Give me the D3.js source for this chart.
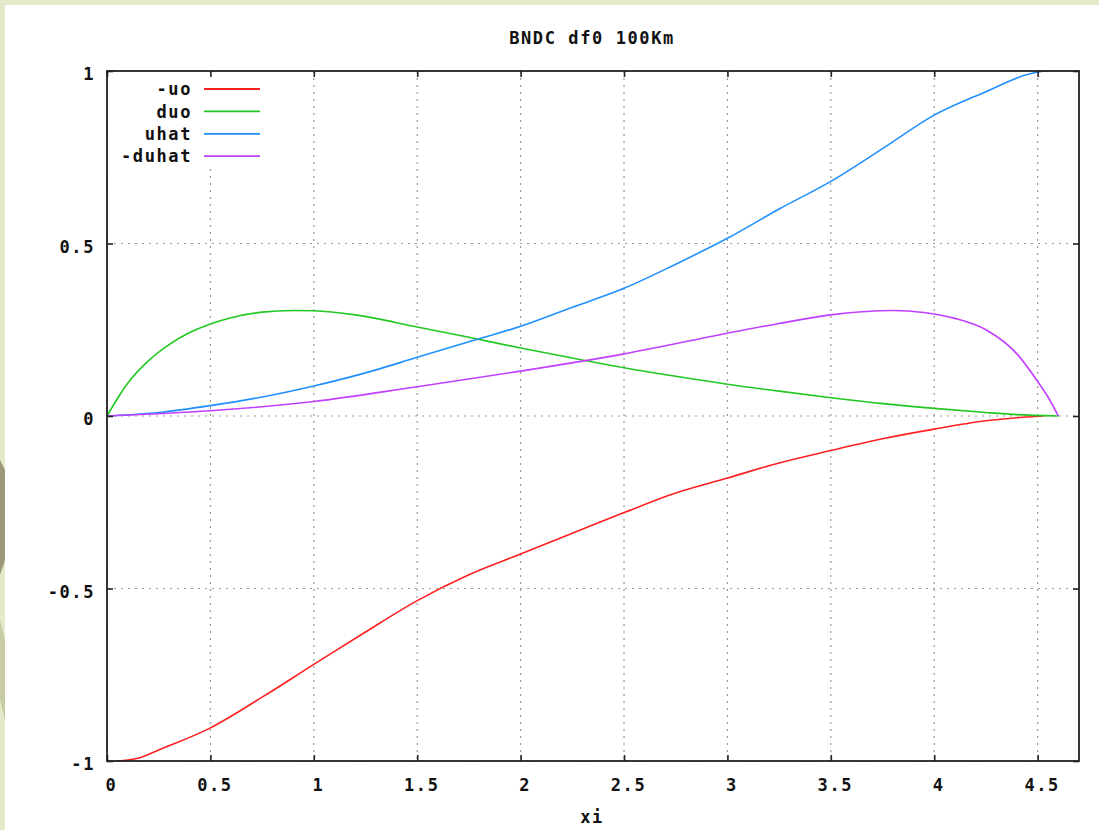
<!DOCTYPE html>
<html>
<head>
<meta charset="utf-8">
<script src="https://cdn.jsdelivr.net/npm/d3@7"></script>
<style>
  html, body { margin: 0; padding: 0; background: #e3e9c9; }
  svg { display: block; }
  text { font-family: "DejaVu Sans Mono", monospace; font-weight: bold; font-size: 17px; letter-spacing: 1.6px; fill: #111; }
</style>
</head>
<body>
<svg id="chart" width="1099" height="830"></svg>
<script>
// curves
const uoX = [0.05, 0.15, 0.25, 0.5, 0.75, 1, 1.25, 1.5, 1.75, 2, 2.25, 2.5, 2.75, 3, 3.25, 3.5, 3.75, 4, 4.25, 4.4, 4.53];
const uoY = [-1, -0.992, -0.968, -0.904, -0.815, -0.72, -0.626, -0.535, -0.46, -0.40, -0.34, -0.28, -0.223, -0.18, -0.136, -0.10, -0.066, -0.038, -0.014, -0.005, 0];

const duoX = [0, 0.05, 0.1, 0.2, 0.3, 0.4, 0.5, 0.6, 0.75, 0.9, 1.0, 1.2, 1.5, 1.75, 2, 2.25, 2.5, 2.75, 3, 3.25, 3.5, 3.75, 4, 4.25, 4.4, 4.6];
const duoY = [0, 0.05, 0.095, 0.16, 0.207, 0.242, 0.267, 0.285, 0.301, 0.306, 0.305, 0.293, 0.258, 0.228, 0.197, 0.168, 0.14, 0.115, 0.092, 0.072, 0.053, 0.036, 0.022, 0.01, 0.004, 0];

const uhatX = [0, 0.25, 0.5, 0.75, 1, 1.25, 1.5, 1.75, 2, 2.25, 2.5, 2.75, 3, 3.25, 3.5, 3.75, 4, 4.25, 4.45, 4.53];
const uhatY = [0, 0.01, 0.03, 0.055, 0.087, 0.125, 0.17, 0.215, 0.26, 0.315, 0.37, 0.44, 0.515, 0.6, 0.68, 0.775, 0.872, 0.94, 0.99, 1.0];

const duhatX = [0, 0.5, 1, 1.5, 2, 2.5, 3, 3.25, 3.5, 3.65, 3.8, 3.95, 4.1, 4.25, 4.4, 4.5, 4.55, 4.6];
const duhatY = [0, 0.015, 0.042, 0.085, 0.13, 0.18, 0.24, 0.268, 0.293, 0.302, 0.306, 0.3, 0.283, 0.25, 0.18, 0.10, 0.055, 0];

const seriesNames = ["-uo", "duo", "uhat", "-duhat"];
const seriesColors = ["#ff2020", "#22c822", "#2090ff", "#c040ff"];

const xTicks = [0, 0.5, 1, 1.5, 2, 2.5, 3, 3.5, 4, 4.5];
const xTickLabels = ["0", "0.5", "1", "1.5", "2", "2.5", "3", "3.5", "4", "4.5"];
const yTicks = [-1, -0.5, 0, 0.5, 1];
const yTickLabels = ["-1", "-0.5", "0", "0.5", "1"];

const title = "BNDC df0 100Km";
const xLabel = "xi";

const plotL = 107, plotR = 1079, plotT = 71, plotB = 761;

const svg = d3.select("#chart");

// slide background: white sheet with a bit of the green border showing
svg.append("rect").attr("x", 5).attr("y", 5).attr("width", 1094).attr("height", 825).attr("fill", "#fff");
svg.append("path")
  .attr("d", "M0,460 L5,470 L5,560 L0,575 Z")
  .attr("fill", "#8a8464").attr("opacity", 0.8);
svg.append("path")
  .attr("d", "M0,620 L5,640 L5,720 L0,700 Z")
  .attr("fill", "#c8cba4");

const x = d3.scaleLinear().domain([0, 4.7]).range([plotL, plotR]);
const y = d3.scaleLinear().domain([-1, 1]).range([plotB, plotT]);

// grid
const grid = svg.append("g").attr("stroke", "#9a9a9a").attr("stroke-width", 1.2).attr("stroke-dasharray", "2,5");
grid.selectAll("line.gx").data(xTicks).enter().append("line")
  .attr("x1", d => x(d)).attr("x2", d => x(d)).attr("y1", plotT).attr("y2", plotB);
grid.selectAll("line.gy").data(yTicks).enter().append("line")
  .attr("y1", d => y(d)).attr("y2", d => y(d)).attr("x1", plotL).attr("x2", plotR);

// curves
const sets = [[uoX, uoY], [duoX, duoY], [uhatX, uhatY], [duhatX, duhatY]];
const line = d3.line().x(d => x(d[0])).y(d => y(d[1])).curve(d3.curveMonotoneX);
sets.forEach((s, i) => {
  const pts = s[0].map((v, k) => [v, s[1][k]]);
  svg.append("path")
    .datum(pts)
    .attr("fill", "none")
    .attr("stroke", seriesColors[i])
    .attr("stroke-width", 1.6)
    .attr("d", line);
});

// key (opaque, hides the grid under it)
const key = svg.append("g");
key.append("rect").attr("x", 110).attr("y", 77).attr("width", 156).attr("height", 89).attr("fill", "#fff");
seriesNames.forEach((name, i) => {
  const ky = 89 + i * 22.4;
  key.append("text").attr("x", 192).attr("y", ky).attr("dy", "0.36em")
    .attr("text-anchor", "end").text(name);
  key.append("line").attr("x1", 204).attr("x2", 260).attr("y1", ky).attr("y2", ky)
    .attr("stroke", seriesColors[i]).attr("stroke-width", 1.8);
});

// axes, ticks inside on all four sides
const ax = svg.append("g").attr("class", "axes");
ax.append("g").attr("transform", `translate(0,${plotB})`)
  .call(d3.axisBottom(x).tickValues(xTicks).tickSize(-6).tickPadding(0).tickFormat((d, i) => xTickLabels[i]))
  .call(g => g.selectAll("text").attr("y", 24).attr("dy", "0.36em").attr("dx", 4).attr("fill", "#111"));
ax.append("g").attr("transform", `translate(0,${plotT})`)
  .call(d3.axisTop(x).tickValues(xTicks).tickSize(-6).tickFormat(""));
ax.append("g").attr("transform", `translate(${plotL},0)`)
  .call(d3.axisLeft(y).tickValues(yTicks).tickSize(-6).tickPadding(0).tickFormat((d, i) => yTickLabels[i]))
  .call(g => g.selectAll("text").attr("x", -12).attr("dy", "0.5em").attr("fill", "#111"));
ax.append("g").attr("transform", `translate(${plotR},0)`)
  .call(d3.axisRight(y).tickValues(yTicks).tickSize(-6).tickFormat(""));
ax.selectAll(".domain").remove();
ax.selectAll(".tick line").attr("stroke", "#222").attr("stroke-width", 1.6);
ax.selectAll("text").style("font-family", "DejaVu Sans Mono").style("font-size", "17px").style("font-weight", "bold");

// border
svg.append("rect").attr("x", plotL).attr("y", plotT).attr("width", plotR - plotL).attr("height", plotB - plotT)
  .attr("fill", "none").attr("stroke", "#222").attr("stroke-width", 1.8);

svg.append("text").attr("x", 592).attr("y", 38).attr("dy", "0.36em").attr("text-anchor", "middle").text(title);
svg.append("text").attr("x", 592).attr("y", 817).attr("dy", "0.36em").attr("text-anchor", "middle").text(xLabel);
</script>
</body>
</html>
